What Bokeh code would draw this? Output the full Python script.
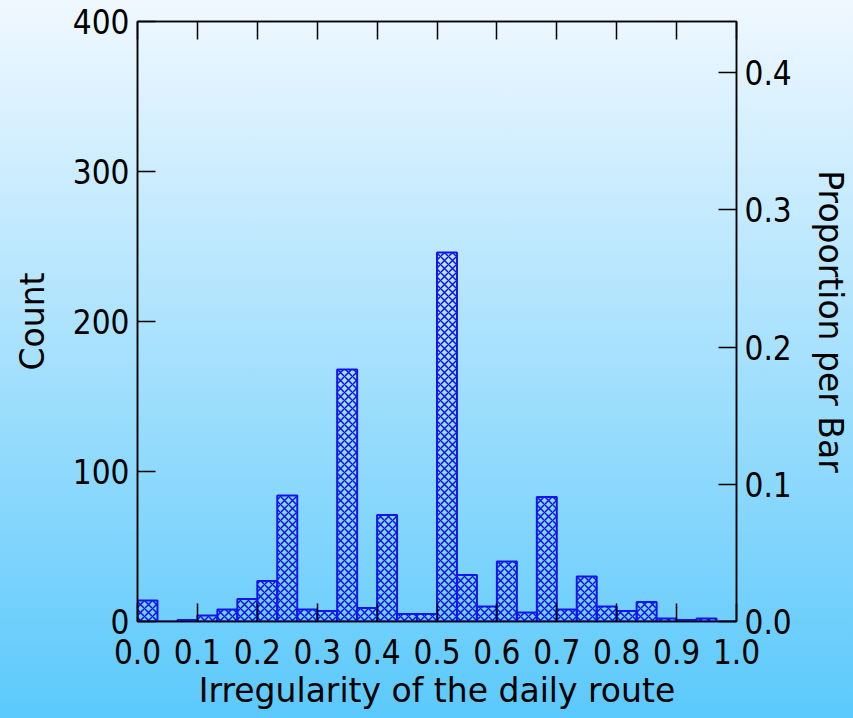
from bokeh.plotting import figure
from bokeh.models import Range1d, LinearAxis, FixedTicker, NumeralTickFormatter
from bokeh.embed import file_html
from bokeh.resources import INLINE

# ---- data ----
bin_edges_left = [i / 30 for i in range(30)]
counts = [14, 0, 1, 4, 8, 15, 27, 84, 8, 7,
          168, 9, 71, 5, 5, 246, 31, 10, 40, 6,
          83, 8, 30, 10, 7, 13, 2, 1, 2, 0]
x_ticks = [0.0, 0.1, 0.2, 0.3, 0.4, 0.5, 0.6, 0.7, 0.8, 0.9, 1.0]
count_ticks = [0, 100, 200, 300, 400]
prop_ticks = [0.0, 0.1, 0.2, 0.3, 0.4]
total = sum(counts)
y_max = 400

TICK_FONT = "DejaVu Sans Condensed"
LABEL_FONT = "DejaVu Sans"
FS = "33px"

p = figure(width=853, height=718, output_backend="svg", toolbar_location=None,
           x_range=Range1d(0, 1), y_range=Range1d(0, y_max),
           x_axis_location="below", y_axis_location="left")
p.min_border_left = 137
p.min_border_right = 117
p.min_border_top = 21
p.min_border_bottom = 97
p.background_fill_alpha = 0
p.border_fill_alpha = 0
p.outline_line_color = "black"
p.outline_line_width = 1.5
p.grid.visible = False
p.styles = {"background-image": "linear-gradient(to bottom, #f0f8ff 0%, #5bc9fb 100%)"}

p.extra_y_ranges = {"prop": Range1d(0, y_max / total)}

lefts = bin_edges_left
rights = [l + 1 / 30 for l in lefts]
p.quad(left=lefts, right=rights, bottom=0, top=counts,
       fill_alpha=0, line_color="#1414ee", line_width=2,
       hatch_pattern="diagonal_cross", hatch_color="#1010e6",
       hatch_scale=8, hatch_weight=1.5)

def style(ax):
    ax.major_tick_in = 18
    ax.major_tick_out = 0
    ax.minor_tick_in = 0
    ax.minor_tick_out = 0
    ax.axis_line_color = "black"
    ax.axis_line_width = 1.5
    ax.major_tick_line_color = "black"
    ax.major_tick_line_width = 1.5
    ax.major_label_text_font = TICK_FONT
    ax.major_label_text_font_size = FS
    ax.major_label_text_color = "black"
    ax.axis_label_text_font = LABEL_FONT
    ax.axis_label_text_font_size = FS
    ax.axis_label_text_font_style = "normal"
    ax.axis_label_text_color = "black"

xa = p.xaxis[0]
style(xa)
xa.ticker = FixedTicker(ticks=x_ticks)
xa.formatter = NumeralTickFormatter(format="0.0")
xa.axis_label = "Irregularity of the daily route"
xa.major_label_standoff = 17
xa.axis_label_standoff = 4

ya = p.yaxis[0]
style(ya)
ya.ticker = FixedTicker(ticks=count_ticks)
ya.axis_label = "Count"
ya.major_label_standoff = 8
ya.axis_label_standoff = 18

ra = LinearAxis(y_range_name="prop", axis_label="Proportion per Bar")
style(ra)
ra.ticker = FixedTicker(ticks=prop_ticks)
ra.formatter = NumeralTickFormatter(format="0.0")
ra.major_label_standoff = 8
ra.axis_label_standoff = 16
p.add_layout(ra, "right")

ta = LinearAxis()
style(ta)
ta.ticker = FixedTicker(ticks=x_ticks)
ta.major_label_text_font_size = "0px"
ta.major_label_text_alpha = 0
ta.major_label_standoff = 0
p.add_layout(ta, "above")

open("out.html", "w").write(file_html(p, INLINE))
